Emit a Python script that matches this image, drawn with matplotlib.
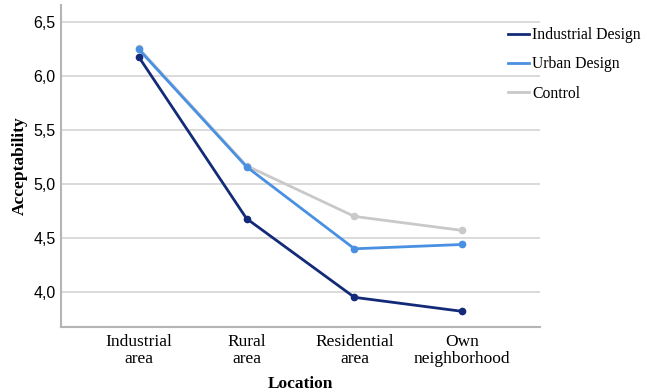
import matplotlib.pyplot as plt
from matplotlib.ticker import FuncFormatter

# Data
locations = ["Industrial\narea", "Rural\narea", "Residential\narea", "Own\nneighborhood"]
industrial = [6.18, 4.68, 3.95, 3.82]
urban = [6.25, 5.16, 4.40, 4.44]
control = [6.26, 5.17, 4.70, 4.57]
y_ticks = [4.0, 4.5, 5.0, 5.5, 6.0, 6.5]

serif = "Liberation Serif"
sans = "Liberation Sans"

fig = plt.figure(figsize=(6.47, 3.92), dpi=100)
ax = fig.add_axes([61 / 647, 1 - 327 / 392, (540 - 61) / 647, 322 / 392])

x = range(len(locations))
ax.plot(x, control, color="#c9c9c9", lw=2, marker="o", ms=4.5, label="Control", zorder=3)
ax.plot(x, urban, color="#4a90e2", lw=2, marker="o", ms=4.5, label="Urban Design", zorder=4)
ax.plot(x, industrial, color="#132a78", lw=2, marker="o", ms=4.5, label="Industrial Design", zorder=5)

ax.set_xlim(-0.72, 3.72)
ax.set_ylim(3.675, 6.66)
ax.set_yticks(y_ticks)
ax.yaxis.set_major_formatter(FuncFormatter(lambda v, p: f"{v:.1f}".replace(".", ",")))
ax.set_xticks(list(x))
ax.set_xticklabels(locations, fontfamily=serif, fontsize=12.5, linespacing=1.05)
for t in ax.get_yticklabels():
    t.set_fontfamily(sans)
    t.set_fontsize(11.5)
ax.tick_params(length=0, pad=4)
ax.tick_params(axis="x", pad=5)

ax.grid(axis="y", color="#d4d4d4", lw=1.2)
ax.set_axisbelow(True)
for s in ["top", "right"]:
    ax.spines[s].set_visible(False)
for s in ["left", "bottom"]:
    ax.spines[s].set_color("#b5b5b5")
    ax.spines[s].set_linewidth(1.5)

ax.set_xlabel("Location", fontfamily=serif, fontweight="bold", fontsize=12.5, labelpad=7)
ax.set_ylabel("Acceptability", fontfamily=serif, fontweight="bold", fontsize=12.5, labelpad=4)

handles, labels = ax.get_legend_handles_labels()
order = [2, 1, 0]
leg = fig.legend([handles[i] for i in order], [labels[i] for i in order],
                 loc="upper left", bbox_to_anchor=(494 / 647, 1 - 13 / 392),
                 frameon=False, prop={"family": serif, "size": 11.3},
                 handlelength=1.3, handletextpad=0.25, labelspacing=0.85)
for h in leg.legend_handles:
    h.set_marker("")

fig.savefig("out.png", dpi=100)
